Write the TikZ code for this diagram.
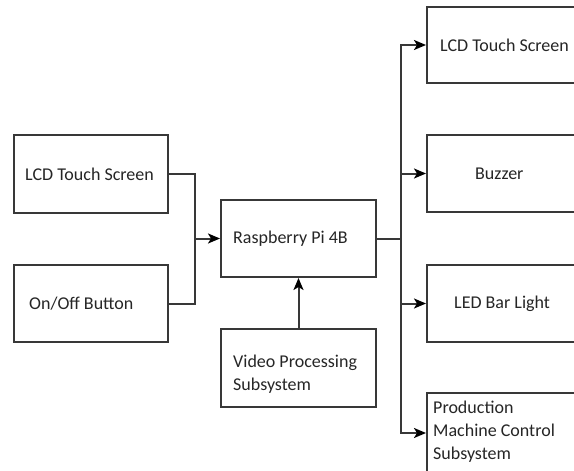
\documentclass[tikz,border=0pt]{standalone}
\usepackage{fontspec}
\setmainfont{Carlito}
\usetikzlibrary{arrows.meta}
\begin{document}
\begin{tikzpicture}[x=1pt,y=-1pt,
  box/.style={draw=black!78,line width=2pt,rectangle,inner sep=0pt},
  lbl/.style={anchor=west,inner sep=0pt,font=\fontsize{18}{23}\selectfont,text=black!85},
  conn/.style={draw=black!78,line width=2pt},
  arr/.style={conn,-{Stealth[length=12pt,width=10pt,inset=3pt,black]}}]
\clip (0,0) rectangle (574,471);
\fill[white] (0,0) rectangle (574,471);
% boxes
\node[box,minimum width=154pt,minimum height=78pt] (lcdin) at (91,174) {};
\node[box,minimum width=154pt,minimum height=77pt] (onoff) at (91,303.5) {};
\node[box,minimum width=155pt,minimum height=77pt] (pi) at (298.5,238.5) {};
\node[box,minimum width=155pt,minimum height=78pt] (video) at (298.5,368) {};
\node[box,minimum width=160pt,minimum height=76pt] (lcdout) at (507,45) {};
\node[box,minimum width=160pt,minimum height=77pt] (buzzer) at (507,173.5) {};
\node[box,minimum width=160pt,minimum height=77pt] (led) at (507,303.5) {};
\node[box,minimum width=160pt,minimum height=80pt] (prod) at (507,433) {};
% texts
\node[lbl] (t1) at (25,174) {LCD Touch Screen};
\node[lbl] (t2) at (29,304) {On/Off Button};
\node[lbl] (t3) at (233,239) {Raspberry Pi 4B};
\node[lbl,align=left] (t4) at (233,374) {Video Processing\\Subsystem};
\node[lbl] (t5) at (440,45) {LCD Touch Screen};
\node[lbl] (t6) at (475,174) {Buzzer};
\node[lbl] (t7) at (454,304) {LED Bar Light};
\node[lbl,align=left] (t8) at (433,432) {Production\\Machine Control\\Subsystem};
% connectors
\coordinate (jl) at (195,238.5);
\coordinate (jr) at (401,238.5);
\draw[conn] (lcdin.east) -| (jl) |- (onoff.east);
\draw[arr] (jl) -- (pi.west);
\draw[arr] (video.north) -- (pi.south);
\draw[conn] (pi.east) -- (jr);
\draw[arr] (jr) |- (lcdout.west);
\draw[arr] (jr) |- (buzzer.west);
\draw[arr] (jr) |- (led.west);
\draw[arr] (jr) |- (prod.west);
\end{tikzpicture}
\end{document}
